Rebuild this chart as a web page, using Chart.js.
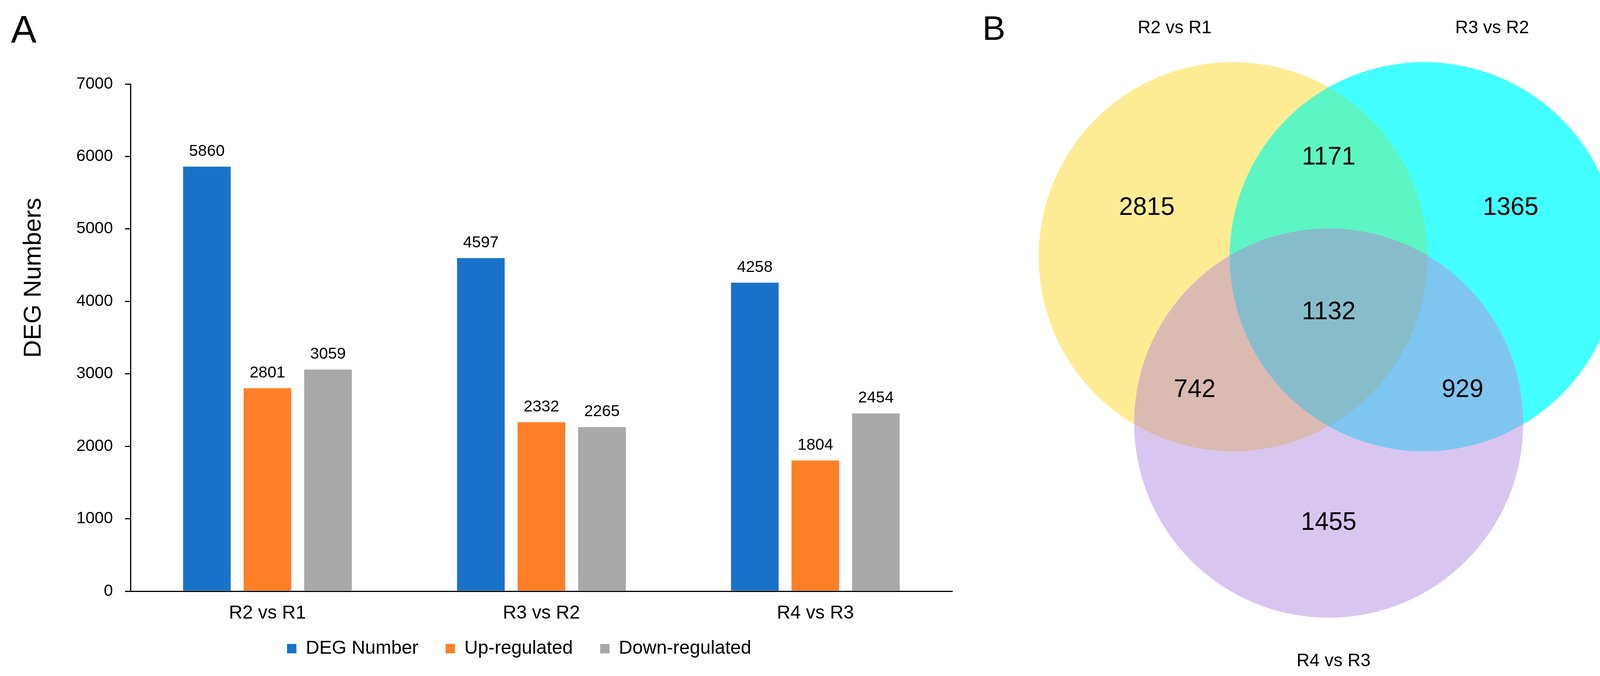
<!DOCTYPE html>
<html>
<head>
<meta charset="utf-8">
<script src="https://cdn.jsdelivr.net/npm/chart.js@4.4.1/dist/chart.umd.min.js"></script>
<style>
  body { margin: 0; background: #fff; }
  #wrap { position: relative; width: 4168px; height: 1730px; background: #fff; overflow: hidden; }
  canvas { position: absolute; top: 0; }
  .panel { position: absolute; font-family: 'Liberation Sans', Arial, sans-serif; line-height: 1; color: #000; }
</style>
</head>
<body>
<div id="wrap">
  <canvas id="graficoBarras" width="2658" height="1730" style="left:0;width:2658px;height:1730px"></canvas>
  <canvas id="graficoVenn" width="1698" height="1730" style="left:2470px;width:1698px;height:1730px"></canvas>
  <div class="panel" style="left:28px;top:26px;font-size:98px;">A</div>
  <div class="panel" style="left:2515px;top:28px;font-size:88px;">B</div>
</div>
<script>
const fonte = "'Liberation Sans', Arial, sans-serif";
Chart.defaults.font.family = fonte;
Chart.defaults.color = '#000';

// panel A
const categories = ['R2 vs R1', 'R3 vs R2', 'R4 vs R3'];
const degNumber = [5860, 4597, 4258];
const upRegulated = [2801, 2332, 1804];
const downRegulated = [3059, 2265, 2454];
const yMin = 0;
const yMax = 7000;
const yStep = 1000;

// panel B
const vennSets = ['R2 vs R1', 'R3 vs R2', 'R4 vs R3'];
const vennRegions = ['A', 'B', 'C', 'AB', 'AC', 'BC', 'ABC'];
const vennCounts = [2815, 1365, 1455, 1171, 742, 929, 1132];

// venn layout, in circle radius units around the middle of the three circles
const vennCircles = [[-0.491, 0.285], [0.491, 0.285], [0, -0.57]];
const vennSpots = {
    A: [-0.935, 0.536], B: [0.935, 0.536], C: [0, -1.084],
    AB: [0, 0.795], AC: [-0.689, -0.40], BC: [0.688, -0.40], ABC: [0, 0]
};
const vennNameSpots = [[-0.792, 1.46], [0.84, 1.46], [0.025, -1.793]];
const vennColors = {
    A: '#FEEC94', B: '#44FFFF', C: '#D9C6F0',
    AB: '#5DF5C4', AC: '#DBBAB2', BC: '#7EC6F0', ABC: '#87BDCB'
};

const rotulosBarras = {
    id: 'rotulosBarras',
    afterLayout(chart) {
        // legend sits a bit higher and more to the right than chart.js puts it
        const lg = chart.legend;
        lg.left += 110; lg.right += 110;
        lg.top -= 33; lg.bottom -= 33;
    },
    afterDatasetsDraw(chart) {
        const ctx = chart.ctx;
        ctx.save();
        ctx.font = '41px ' + fonte;
        ctx.fillStyle = '#000';
        ctx.textAlign = 'center';
        ctx.textBaseline = 'middle';
        chart.data.datasets.forEach((dataset, i) => {
            chart.getDatasetMeta(i).data.forEach((bar, j) => {
                ctx.fillText(dataset.data[j], bar.x, bar.y - 39);
            });
        });
        // y axis title, sits above the middle of the axis like the original
        ctx.translate(87, 711);
        ctx.rotate(-Math.PI / 2);
        ctx.font = '63px ' + fonte;
        ctx.fillText('DEG Numbers', 0, 0);
        ctx.restore();
    }
};

const graficoBarras = new Chart(document.getElementById('graficoBarras'), {
    type: 'bar',
    data: {
        labels: categories,
        datasets: [
            { label: 'DEG Number', data: degNumber, backgroundColor: '#1873C8' },
            { label: 'Up-regulated', data: upRegulated, backgroundColor: '#FF7F27' },
            { label: 'Down-regulated', data: downRegulated, backgroundColor: '#A8A8A8' }
        ]
    },
    options: {
        responsive: false,
        animation: false,
        devicePixelRatio: 1,
        categoryPercentage: 0.663,
        barPercentage: 0.787,
        layout: { padding: { top: 215, right: 220, bottom: 3, left: 0 } },
        plugins: {
            legend: {
                position: 'bottom',
                labels: { boxWidth: 24, boxHeight: 24, padding: 70, color: '#000', font: { size: 48 } }
            },
            tooltip: { enabled: false }
        },
        scales: {
            x: {
                grid: { drawOnChartArea: false, drawTicks: false },
                border: { color: '#000', width: 3 },
                ticks: { color: '#000', font: { size: 48 }, padding: 28 },
                afterFit(scale) { scale.height = 86; }
            },
            y: {
                min: yMin,
                max: yMax,
                ticks: { stepSize: yStep, color: '#000', font: { size: 42 }, padding: 31, callback: v => v },
                grid: { drawOnChartArea: false, drawTicks: true, tickLength: 14, color: '#000', lineWidth: 3 },
                border: { color: '#000', width: 3 },
                afterFit(scale) { scale.width = 334; }
            }
        }
    },
    plugins: [rotulosBarras]
});

const vennDesenho = {
    id: 'vennDesenho',
    beforeDatasetsDraw(chart) {
        const { ctx, scales: { x, y } } = chart;
        const raio = x.getPixelForValue(1) - x.getPixelForValue(0);
        const circulos = vennCircles.map(c => ({ x: x.getPixelForValue(c[0]), y: y.getPixelForValue(c[1]) }));
        const caminho = c => { ctx.beginPath(); ctx.arc(c.x, c.y, raio, 0, Math.PI * 2); };
        vennRegions.forEach(chave => {
            const idx = chave.split('').map(k => 'ABC'.indexOf(k));
            ctx.save();
            idx.slice(0, -1).forEach(i => { caminho(circulos[i]); ctx.clip(); });
            caminho(circulos[idx[idx.length - 1]]);
            ctx.fillStyle = vennColors[chave];
            ctx.fill();
            ctx.restore();
        });
    },
    afterDatasetsDraw(chart) {
        const { ctx, scales: { x, y } } = chart;
        ctx.save();
        ctx.fillStyle = '#000';
        ctx.textAlign = 'center';
        ctx.textBaseline = 'middle';
        ctx.font = '64px ' + fonte;
        chart.getDatasetMeta(0).data.forEach((ponto, i) => {
            ctx.fillText(vennCounts[i], ponto.x, ponto.y);
        });
        ctx.font = '46px ' + fonte;
        vennSets.forEach((nome, i) => {
            ctx.fillText(nome, x.getPixelForValue(vennNameSpots[i][0]), y.getPixelForValue(vennNameSpots[i][1]));
        });
        ctx.restore();
    }
};

const graficoVenn = new Chart(document.getElementById('graficoVenn'), {
    type: 'scatter',
    data: {
        datasets: [{
            label: 'regions',
            data: vennRegions.map(k => ({ x: vennSpots[k][0], y: vennSpots[k][1] })),
            pointRadius: 0
        }]
    },
    options: {
        responsive: false,
        animation: false,
        devicePixelRatio: 1,
        layout: { padding: 0 },
        plugins: { legend: { display: false }, tooltip: { enabled: false } },
        scales: {
            x: { display: false, min: -1.8705, max: 1.5392, bounds: 'data' },
            y: { display: false, min: -1.8695, max: 1.6044, bounds: 'data' }
        }
    },
    plugins: [vennDesenho]
});
</script>
</body>
</html>
